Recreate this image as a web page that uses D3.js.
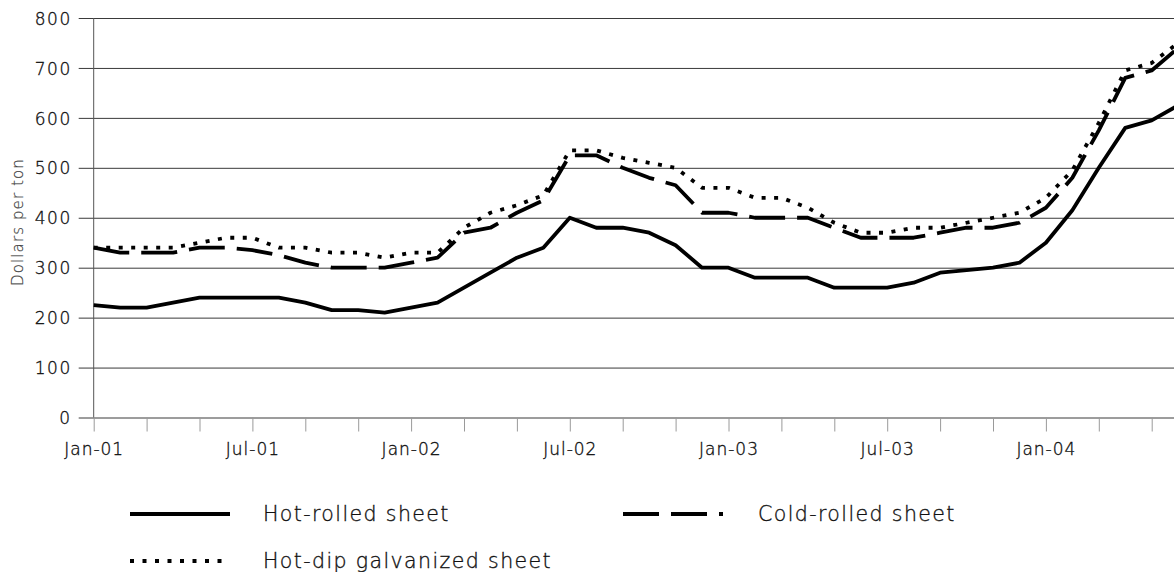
<!DOCTYPE html>
<html>
<head>
<meta charset="utf-8">
<script src="https://cdn.jsdelivr.net/npm/d3@7"></script>
<style>
  html, body { margin: 0; padding: 0; background: #fff; }
  svg { display: block; }
  text { font-family: "DejaVu Sans", "Liberation Sans", sans-serif; font-weight: 200; fill: #111; stroke: #111; stroke-width: 0.35px; }
</style>
</head>
<body>
<svg id="chart" width="1174" height="572"></svg>
<script>
const months = [
  "Jan-01","Feb-01","Mar-01","Apr-01","May-01","Jun-01","Jul-01","Aug-01","Sep-01","Oct-01","Nov-01","Dec-01",
  "Jan-02","Feb-02","Mar-02","Apr-02","May-02","Jun-02","Jul-02","Aug-02","Sep-02","Oct-02","Nov-02","Dec-02",
  "Jan-03","Feb-03","Mar-03","Apr-03","May-03","Jun-03","Jul-03","Aug-03","Sep-03","Oct-03","Nov-03","Dec-03",
  "Jan-04","Feb-04","Mar-04","Apr-04","May-04","Jun-04"
];
const hotRolled = [
  225,220,220,230,240,240,240,240,230,215,215,210,
  220,230,260,290,320,340,400,380,380,370,345,300,
  300,280,280,280,260,260,260,270,290,295,300,310,
  350,415,500,580,595,625
];
const coldRolled = [
  340,330,330,330,340,340,335,325,310,300,300,300,
  310,320,370,380,410,435,525,525,500,480,465,410,
  410,400,400,400,380,360,360,360,370,380,380,390,
  420,480,575,680,695,740
];
const galvanized = [
  340,340,340,340,350,360,360,340,340,330,330,320,
  330,330,380,410,425,445,535,535,520,510,500,460,
  460,440,440,420,390,370,370,380,380,390,400,410,
  440,495,590,695,710,750
];
const seriesNames = ["Hot-rolled sheet", "Cold-rolled sheet", "Hot-dip galvanized sheet"];
const xTickLabels = ["Jan-01","Jul-01","Jan-02","Jul-02","Jan-03","Jul-03","Jan-04"];
const yTicks = [0,100,200,300,400,500,600,700,800];
const yTitle = "Dollars per ton";

const svg = d3.select("#chart");
const W = 1174;
const x0 = 93.7, monthW = 26.45;
const x = d3.scaleLinear().domain([0, months.length - 1]).range([x0, x0 + monthW * (months.length - 1)]);
const y = d3.scaleLinear().domain([0, 800]).range([417.5, 18]);

// gridlines + y ticks
const yAxis = d3.axisLeft(y).tickValues(yTicks).tickSize(-(W - x0)).tickPadding(8).tickSizeOuter(0);
const gy = svg.append("g").attr("transform", `translate(${x0},0)`).call(yAxis);
gy.select(".domain").remove();
gy.selectAll(".tick line").attr("stroke", "#3a3a3a").attr("stroke-width", 1).attr("x1", -15).attr("x2", W - x0);
gy.selectAll(".tick text").attr("x", -22).style("font-size", "17px").style("letter-spacing", "1.5px").attr("dy", "0.36em");

// vertical axis line
svg.append("line").attr("x1", x0).attr("x2", x0).attr("y1", y(800)).attr("y2", y(0))
  .attr("stroke", "#555").attr("stroke-width", 1);

// x ticks every 2 months
const tickIdx = d3.range(0, months.length, 2);
const xAxis = d3.axisBottom(x).tickValues(tickIdx).tickSize(14).tickSizeOuter(0)
  .tickFormat(i => xTickLabels.includes(months[i]) ? months[i] : "");
const gx = svg.append("g").attr("transform", `translate(0,${y(0)})`).call(xAxis);
gx.select(".domain").remove();
gx.selectAll(".tick line").attr("stroke", "#9a9a9a").attr("stroke-width", 1);
gx.selectAll(".tick text").attr("y", 25).attr("dy", "0.71em").style("font-size", "17px").style("letter-spacing", "1px");

// y title
svg.append("text").attr("transform", `translate(23,222) rotate(-90)`)
  .attr("text-anchor", "middle").style("font-size", "15px").style("letter-spacing", "1.1px")
  .style("fill", "#444").style("stroke", "#444").style("stroke-width", "0.2px").text(yTitle);

const styles = [
  { data: hotRolled, dash: null },
  { data: coldRolled, dash: "36,12" },
  { data: galvanized, dash: "4,8.5" }
];
const line = d3.line().x((d, i) => x(i)).y(d => y(d)).curve(d3.curveLinear);

const lines = svg.append("g");
styles.forEach(s => {
  lines.append("path").datum(s.data).attr("d", line)
    .attr("fill", "none").attr("stroke", "#000").attr("stroke-width", 3.8)
    .attr("stroke-linejoin", "round")
    .attr("stroke-dasharray", s.dash);
});

// legend
const legendPos = [
  { lx: 130, ly: 514, tx: 263 },
  { lx: 623, ly: 514, tx: 758 },
  { lx: 130, ly: 561, tx: 263 }
];
seriesNames.forEach((name, i) => {
  const p = legendPos[i];
  svg.append("line").attr("x1", p.lx).attr("x2", p.lx + 100).attr("y1", p.ly).attr("y2", p.ly)
    .attr("stroke", "#000").attr("stroke-width", 3.8).attr("stroke-dasharray", styles[i].dash);
  svg.append("text").attr("x", p.tx).attr("y", p.ly).attr("dy", "0.36em")
    .style("font-size", "20.5px").style("letter-spacing", "1.4px").text(name);
});
</script>
</body>
</html>
